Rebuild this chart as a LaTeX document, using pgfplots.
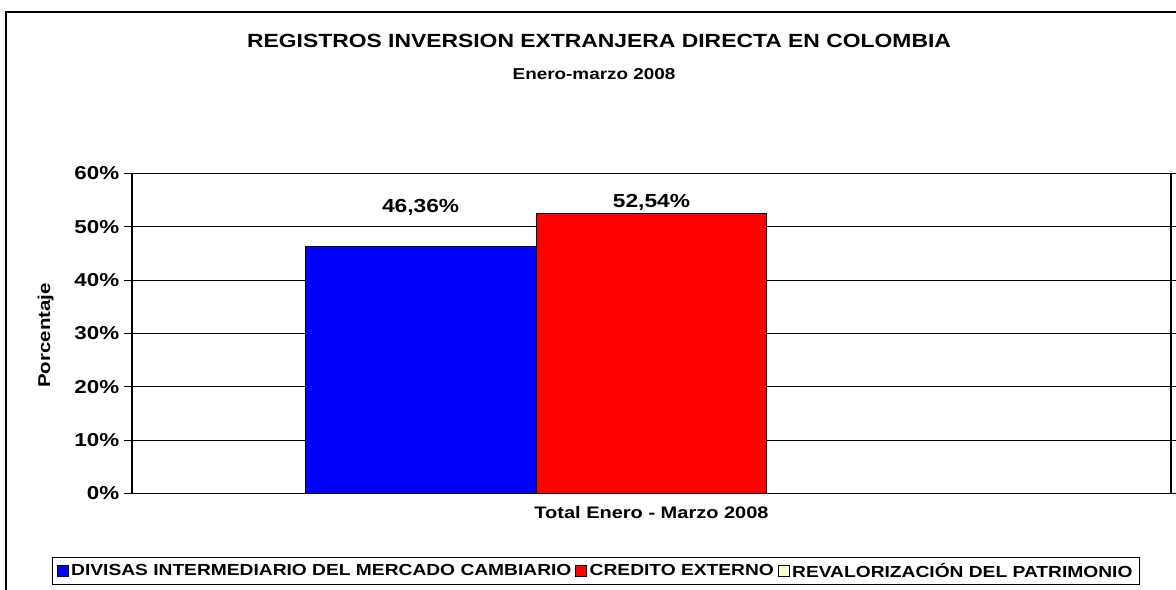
\documentclass[border=0pt]{standalone}
\usepackage{fontspec}
\setmainfont[FakeStretch=1.2]{Liberation Sans}
\usepackage{pgfplots}
\pgfplotsset{compat=1.18}
\begin{document}
\begin{tikzpicture}
\useasboundingbox (0,0) rectangle (882pt,441.75pt);
\fill[white] (0,0) rectangle (882pt,441.75pt);
\begin{axis}[
  at={(99pt,71.625pt)}, anchor=south west,
  scale only axis, width=779.25pt, height=240pt,
  xmin=-2.25, xmax=2.25, ymin=0, ymax=60,
  ybar, bar width=1, bar shift=0pt,
  axis line style={line width=1.1pt},
  ytick={0,10,...,60},
  yticklabels={0\%,10\%,20\%,30\%,40\%,50\%,60\%},
  yticklabel style={font=\bfseries\fontsize{14}{16}\selectfont},
  tick align=outside, major tick length=6pt,
  ytick style={black, line width=0.8pt},
  xtick={0}, xticklabels={Total Enero - Marzo 2008},
  x tick style={draw=none},
  xticklabel style={font=\bfseries\fontsize{12.5}{15}\selectfont},
  ymajorgrids, grid style={black, line width=0.75pt},
  legend columns=-1,
  legend style={at={(0.4466,-0.242)}, anchor=center, draw=black, line width=0.75pt,
    font=\bfseries\fontsize{12}{14}\selectfont, inner xsep=3pt, inner ysep=2pt,
    nodes={inner xsep=2pt},
    /tikz/every even column/.append style={column sep=1pt}},
  legend image code/.code={\draw[#1, line width=0.7pt] (0pt,-4pt) rectangle (8pt,4pt);},
]
\addplot[fill={rgb,255:red,0;green,0;blue,255}, draw=black, line width=0.75pt] coordinates {(-1,46.36)};
\addplot[fill={rgb,255:red,255;green,0;blue,0}, draw=black, line width=0.75pt] coordinates {(0,52.54)};
\addplot[fill={rgb,255:red,255;green,255;blue,204}, draw=black, line width=0.75pt] coordinates {(1,0)};
\legend{DIVISAS INTERMEDIARIO DEL MERCADO CAMBIARIO, CREDITO EXTERNO, REVALORIZACIÓN DEL PATRIMONIO}
\node[anchor=base, font=\bfseries\fontsize{14.2}{16}\selectfont] at (axis cs:-1,52.71) {46,36\%};
\node[anchor=base, font=\bfseries\fontsize{14.2}{16}\selectfont] at (axis cs:0,53.64) {52,54\%};
\end{axis}
\begin{scope}[x=0.75pt,y=0.75pt]
\draw[line width=1pt] (6,-20) -- (6,577) -- (1200,577);
\node[anchor=base, font=\bfseries\fontsize{14.3}{17}\selectfont] at (599,541) {REGISTROS INVERSION EXTRANJERA DIRECTA EN COLOMBIA};
\node[anchor=base, font=\bfseries\fontsize{11.8}{14}\selectfont] at (594,509) {Enero-marzo 2008};
\node[rotate=90, anchor=base, font=\bfseries\fontsize{12.8}{15}\selectfont] at (50,253.5) {Porcentaje};
\end{scope}
\end{tikzpicture}
\end{document}
